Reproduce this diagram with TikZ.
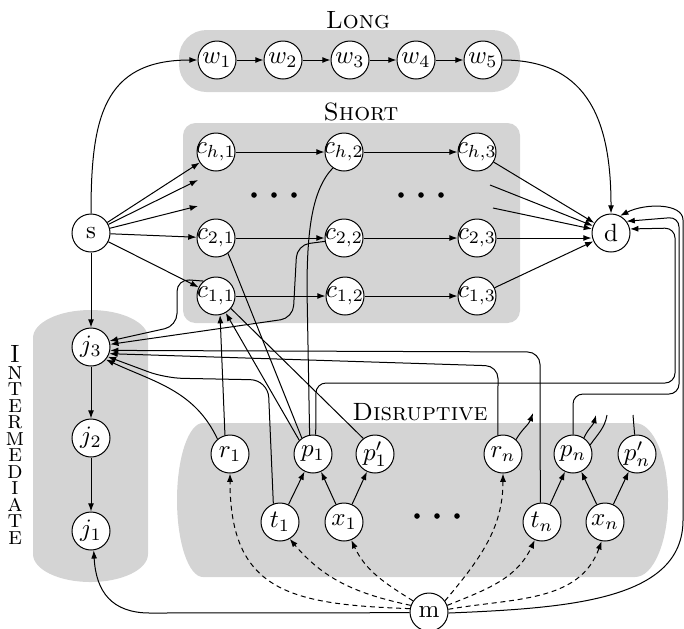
\documentclass[tikz,border=0pt]{standalone}
\usetikzlibrary{arrows.meta}
\newcommand\zc[1]{\makebox[0pt]{#1}}
\begin{document}
\begin{tikzpicture}[x=0.4pt,y=0.4pt,
  >={Latex[length=3.3pt,width=2.4pt]},
  vx/.style={circle,draw,fill=white,minimum size=15.2pt,inner sep=0pt},
  grp/.style={fill=black!17},
  dsh/.style={dash pattern=on 2pt off 1.5pt},
  lbl/.style={inner sep=0pt},
  rc/.style={rounded corners=5pt}]
\useasboundingbox (0,0) rectangle (684,-628);
% groups
\fill[grp, rounded corners=11pt] (179,-30) rectangle (520,-92);
\fill[grp, rounded corners=5pt] (183,-123) rectangle (520,-323);
\fill[grp] (33,-338) -- (33,-554) arc[start angle=180,end angle=360,x radius=57.5,y radius=28]
  -- (148,-338) arc[start angle=0,end angle=180,x radius=57.5,y radius=28] -- cycle;
\fill[grp] (203,-423) -- (635,-423) arc[start angle=90,end angle=-90,x radius=33,y radius=77]
  -- (203,-577) arc[start angle=270,end angle=90,x radius=26,y radius=77] -- cycle;
% labels
\node[lbl] (lng) at (358,-20) {\textsc{Long}};
\node[lbl] (sht) at (361,-112) {\textsc{Short}};
\node[lbl] (dis) at (420,-412) {\textsc{Disruptive}};
\node[lbl,align=center,font=\scshape\fontsize{10}{6.6}\selectfont] (itm) at (15,-445)
  {I\\n\\t\\e\\r\\m\\e\\d\\i\\a\\t\\e};
% dots
\foreach \x in {254,274,294,401,421,441} \fill (\x,-195) circle (2.8);
\foreach \x in {417,437,457} \fill (\x,-516) circle (2.8);
% nodes
\node[vx] (w1) at (217,-60) {\zc{$w_1$}};
\node[vx] (w2) at (283,-60) {\zc{$w_2$}};
\node[vx] (w3) at (350,-60) {\zc{$w_3$}};
\node[vx] (w4) at (416,-60) {\zc{$w_4$}};
\node[vx] (w5) at (483,-60) {\zc{$w_5$}};
\node[vx] (ch1) at (216,-152) {\zc{$c_{h,1}$}};
\node[vx] (ch2) at (344,-152) {\zc{$c_{h,2}$}};
\node[vx] (ch3) at (477,-152) {\zc{$c_{h,3}$}};
\node[vx] (c21) at (216,-238) {\zc{$c_{2,1}$}};
\node[vx] (c22) at (344,-238) {\zc{$c_{2,2}$}};
\node[vx] (c23) at (477,-238) {\zc{$c_{2,3}$}};
\node[vx] (c11) at (216,-296) {\zc{$c_{1,1}$}};
\node[vx] (c12) at (345,-296) {\zc{$c_{1,2}$}};
\node[vx] (c13) at (477,-296) {\zc{$c_{1,3}$}};
\node[vx] (s) at (91,-233) {s};
\node[vx] (d) at (611,-233) {d};
\node[vx] (j3) at (91,-347) {\zc{$j_3$}};
\node[vx] (j2) at (91,-438) {\zc{$j_2$}};
\node[vx] (j1) at (91,-531) {\zc{$j_1$}};
\node[vx] (r1) at (230,-454) {\zc{$r_1$}};
\node[vx] (p1) at (313,-454) {\zc{$p_1$}};
\node[vx] (p1p) at (375,-454) {\zc{$p'_1$}};
\node[vx] (rn) at (503,-454) {\zc{$r_n$}};
\node[vx] (pn) at (573,-454) {\zc{$p_n$}};
\node[vx] (pnp) at (637,-454) {\zc{$p'_n$}};
\node[vx] (t1) at (280,-522) {\zc{$t_1$}};
\node[vx] (x1) at (344,-522) {\zc{$x_1$}};
\node[vx] (tn) at (542,-522) {\zc{$t_n$}};
\node[vx] (xn) at (605,-522) {\zc{$x_n$}};
\node[vx] (m) at (429,-612) {m};
% free ends
\coordinate (sa) at (198,-180);
\coordinate (sb) at (198,-206);
\coordinate (da) at (490,-185);
\coordinate (db) at (493,-208);
\coordinate (rnf) at (533,-413);
\coordinate (pnf) at (596,-415);
\coordinate (pnl) at (607,-415);
\coordinate (pnpl) at (633,-415);
% long
\draw[->] (s.north) to[out=90,in=180,looseness=1.3] (w1.west);
\draw[->] (w1) -- (w2);
\draw[->] (w2) -- (w3);
\draw[->] (w3) -- (w4);
\draw[->] (w4) -- (w5);
\draw[->] (w5.east) to[out=0,in=90,looseness=1.2] (d.north);
% short
\draw[->] (s) -- (ch1);
\draw[->] (s) -- (sa);
\draw[->] (s) -- (sb);
\draw[->] (s) -- (c21);
\draw[->] (s) -- (c11);
\draw[->] (ch1) -- (ch2);
\draw[->] (ch2) -- (ch3);
\draw[->] (c21) -- (c22);
\draw[->] (c22) -- (c23);
\draw[->] (c11) -- (c12);
\draw[->] (c12) -- (c13);
\draw[->] (ch3) -- (d);
\draw[->] (da) -- (d);
\draw[->] (db) -- (d);
\draw[->] (c23.east) -- (c23 -| d.west);
\draw[->] (c13) -- (d);
% intermediate
\draw[->] (s) -- (j3);
\draw[->] (j3) -- (j2);
\draw[->] (j2) -- (j1);
% into j3
\draw[->,rc] (c22.190) -- (297,-245) -- (293,-318) -- (j3.8);
\draw[->,rc] (c11.130) -- (177,-279) -- (177,-326) -- (j3.18);
\draw[->,rc] (tn.95) -- (540,-352) -- (j3.-10);
\draw[->,rc] (rn.105) -- (498,-366) -- (j3.-20);
\draw[->,rounded corners=7pt] (t1.110) -- (268,-380) -- (165,-378) -- (j3.-30);
\draw[->] (r1.130) to[out=115,in=-25] (j3.-40);
% disruptive to short
\draw[->] (r1.105) -- (c11.-78);
\draw[->] (p1.135) -- (c11.-60);
\draw (c21.-52) -- (p1.125);
\draw (c11.-40) -- (p1p.127);
\draw (ch2.235) .. controls (312,-190) and (307,-230) .. (307,-290) -- (p1.100);
% inside disruptive
\draw[->] (t1) -- (p1);
\draw[->] (x1) -- (p1);
\draw[->] (x1) -- (p1p);
\draw[->] (tn) -- (pn);
\draw[->] (xn) -- (pn);
\draw[->] (xn) -- (pnp);
\draw[->] (rn.48) to[out=60,in=-110] (rnf);
\draw[->] (pn.56) to[out=65,in=-105] (pnf);
\draw (pn.28) to[out=55,in=-100] (pnl);
\draw (pnp.97) -- (pnpl);
% to d from right
\draw[->,rounded corners=4pt] (p1.82) -- (316,-383) -- (675,-383) -- (675,-228) -- (d.12);
\draw[->,rounded corners=4pt] (pn.north) -- (573,-394) -- (679,-394) -- (679,-217) -- (d.37);
\draw[->] (m.-3) .. controls (570,-608) and (683,-600) .. (683,-520) -- (683,-220)
  .. controls (683,-203) and (645,-203) .. (d.62);
% from m
\draw[->] (m.182) -- (150,-613) .. controls (112,-613) and (96,-592) .. (j1.-82);
\draw[->,dsh] (m.170) to[out=178,in=-90,looseness=1.35] (r1.south);
\draw[->,dsh] (m.160) to[out=168,in=-50] (t1.-60);
\draw[->,dsh] (m.145) to[out=148,in=-65] (x1.-68);
\draw[->,dsh] (m.35) to[out=50,in=-90] (rn.south);
\draw[->,dsh] (m.20) to[out=22,in=-115] (tn.-112);
\draw[->,dsh] (m.8) to[out=10,in=-110] (xn.-100);
\end{tikzpicture}
\end{document}
